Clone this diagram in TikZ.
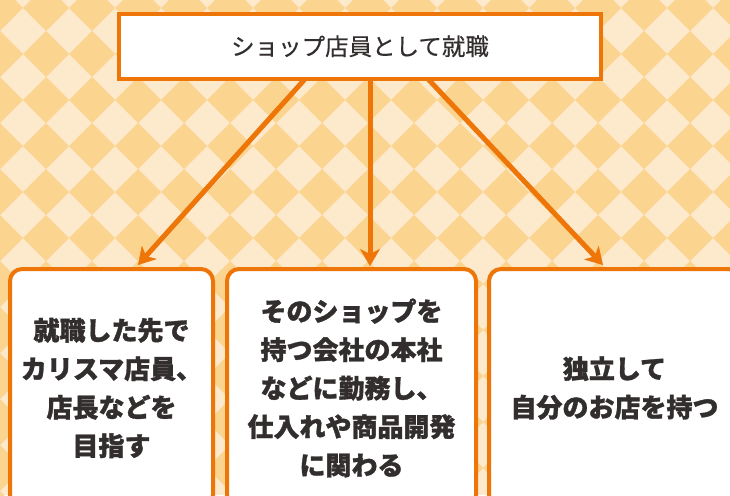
\documentclass[tikz,border=0pt]{standalone}
\usepackage{fontspec}
\newfontfamily\jp{Noto Sans CJK JP}[FakeBold=0.4]
\newfontfamily\jpb{Noto Sans CJK JP}[UprightFeatures={FakeBold=0.4},BoldFeatures={FakeBold=1.2}]
\usetikzlibrary{arrows.meta}
\definecolor{bglight}{RGB}{253,233,204}
\definecolor{bgdark}{RGB}{251,212,144}
\definecolor{orng}{RGB}{238,117,8}
\definecolor{txt}{RGB}{51,46,46}
\begin{document}
\begin{tikzpicture}[x=1pt,y=-1pt,
  topbox/.style={draw=orng,line width=4pt,fill=white,minimum width=482pt,minimum height=65pt,inner sep=0pt,font=\jp\fontsize{23.5}{28}\selectfont,text=txt},
  subbox/.style={draw=orng,line width=4pt,fill=white,rounded corners=12pt,minimum height=238pt,inner sep=0pt,align=center,font=\jpb\bfseries\fontsize{26}{38.5}\selectfont,text=txt},
  arr/.style={draw=orng,line width=5pt,-{Stealth[length=17pt,width=20pt,inset=5pt,line width=0.5pt]}}]
\useasboundingbox (0,0) rectangle (730,495);
\clip (0,0) rectangle (730,495);
\fill[bglight] (0,0) rectangle (730,495);
\foreach \i in {0,...,16}{
  \foreach \j in {0,...,11}{
    \fill[bgdark] (46*\i,-15+46*\j) -- ++(23,23) -- ++(-23,23) -- ++(-23,-23) -- cycle;
  }
}
\node[topbox] (top) at (360,46.3) {ショップ店員として就職};
\node[subbox,minimum width=203pt] (b1) at (111.5,388) {就職した先で\\カリスマ店員、\\店長などを\\目指す};
\node[subbox,minimum width=249pt] (b2) at (351.5,388) {そのショップを\\持つ会社の本社\\などに勤務し、\\仕入れや商品開発\\に関わる};
\node[subbox,minimum width=251pt] (b3) at (614.5,388) {独立して\\自分のお店を持つ};
\coordinate (s1) at (305,79);
\coordinate (t1) at (138,265);
\coordinate (s2) at (370,79);
\coordinate (t2) at (370,266);
\coordinate (s3) at (428,79);
\coordinate (t3) at (603,265);
\draw[arr] (s1) -- (t1);
\draw[arr] (s2) -- (t2);
\draw[arr] (s3) -- (t3);
\end{tikzpicture}
\end{document}
